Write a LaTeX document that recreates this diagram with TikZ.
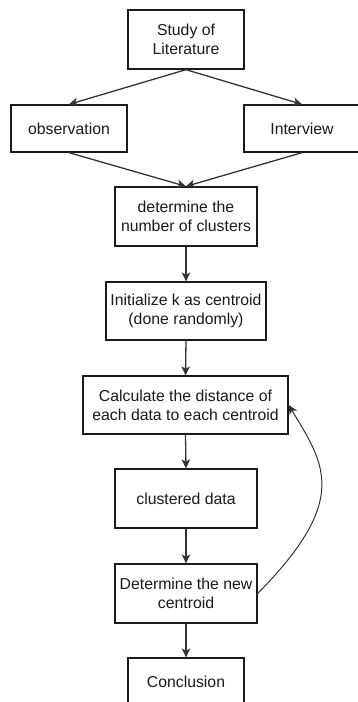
\documentclass[tikz,border=0pt]{standalone}
\usepackage{fontspec}
\setmainfont{Liberation Sans}
\usetikzlibrary{arrows.meta}
\definecolor{txt}{HTML}{1A1A1A}
\definecolor{ln}{HTML}{333333}
\tikzset{
  box/.style={draw=txt, line width=1.3pt, fill=white, inner sep=0pt, align=center,
    text=txt, font=\fontsize{15.8}{19}\selectfont},
  conn/.style={draw=ln, line width=1.3pt, -{Stealth[length=9pt,width=8.5pt,inset=2.5pt]}},
}
\begin{document}
\begin{tikzpicture}[x=1pt,y=-1pt]
\useasboundingbox (0,0) rectangle (358,702);
\node[box, minimum width=116pt, minimum height=59pt] (study) at (186,39.5) {Study of\\Literature};
\node[box, minimum width=116pt, minimum height=47pt] (obs) at (69,128.5) {observation};
\node[box, minimum width=116pt, minimum height=47pt] (inter) at (302,128.5) {Interview};
\node[box, minimum width=142pt, minimum height=59pt] (det) at (186,216.5) {determine the\\number of clusters};
\node[box, minimum width=160pt, minimum height=58pt] (init) at (186,311) {Initialize k as centroid\\(done randomly)};
\node[box, minimum width=205pt, minimum height=58pt] (calc) at (185.5,405) {Calculate the distance of\\each data to each centroid};
\node[box, minimum width=142pt, minimum height=59pt] (clus) at (186,498.5) {clustered data};
\node[box, minimum width=142pt, minimum height=59pt] (newc) at (186,593.5) {Determine the new\\centroid};
\node[box, minimum width=116pt, minimum height=47pt] (concl) at (186,681.5) {Conclusion};
\draw[conn] (study.south) -- (obs.north);
\draw[conn] (study.south) -- (inter.north);
\draw[conn] (obs.south) -- (det.north);
\draw[conn] (inter.south) -- (det.north);
\draw[conn] (det.south) -- (init.north);
\draw[conn] (init.south) -- (calc.north);
\draw[conn] (calc.south) -- (clus.north);
\draw[conn] (clus.south) -- (newc.north);
\draw[conn] (newc.south) -- (concl.north);
\draw[conn, line width=1pt] (newc.east) .. controls (350,500) and (325,465) .. (calc.east);
\end{tikzpicture}
\end{document}
